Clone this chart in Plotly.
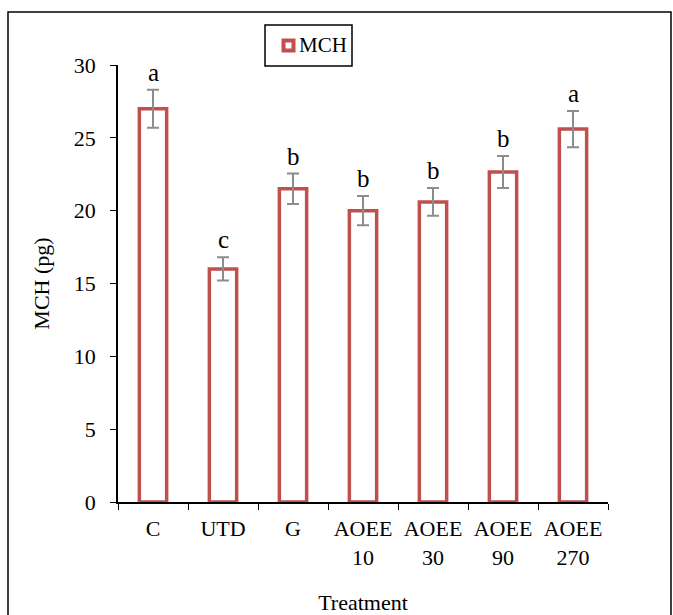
import plotly.graph_objects as go

categories = ["C", "UTD", "G", "AOEE<br>10", "AOEE<br>30", "AOEE<br>90", "AOEE<br>270"]
mch_values = [27.0, 16.0, 21.5, 20.0, 20.6, 22.65, 25.6]
mch_errors = [1.3, 0.8, 1.05, 1.0, 0.95, 1.1, 1.25]
sig_letters = ["a", "c", "b", "b", "b", "b", "a"]

FONT = "Liberation Serif"
RED = "#C0504D"

# pixel geometry helpers (plot area: x 118..608, y 10..502 paper)
L, R, T, B = 118, 65, 10, 113
W, H = 673, 615
PW, PH = W - L - R, H - T - B


def px(x):
    return (x - L) / PW


def py(y):
    return (H - B - y) / PH


fig = go.Figure()
fig.add_trace(go.Bar(
    x=categories, y=mch_values, name="MCH", width=0.39,
    marker=dict(color="white", line=dict(color=RED, width=3.5)),
    error_y=dict(type="data", array=mch_errors, visible=True,
                 color="#8C8C8C", thickness=2, width=6),
    showlegend=False,
))

for c, v, e, s in zip(categories, mch_values, mch_errors, sig_letters):
    fig.add_annotation(x=c, y=v + e, text=s, showarrow=False,
                       yanchor="bottom", yshift=2,
                       font=dict(family=FONT, size=25, color="black"))

# outer figure border
fig.add_shape(type="rect", xref="paper", yref="paper",
              x0=px(8), x1=px(671), y0=py(640), y1=py(12),
              line=dict(color="black", width=1.5), layer="below")

# legend box
fig.add_shape(type="rect", xref="paper", yref="paper",
              x0=px(265), x1=px(352), y0=py(66), y1=py(25),
              line=dict(color="black", width=1.5))
fig.add_shape(type="rect", xref="paper", yref="paper",
              x0=px(283.5), x1=px(293.5), y0=py(50.5), y1=py(40.5),
              line=dict(color=RED, width=4), fillcolor="white")
fig.add_annotation(xref="paper", yref="paper", x=px(297), y=py(45.5),
                   xanchor="left", yanchor="middle", text="MCH",
                   showarrow=False,
                   font=dict(family=FONT, size=21, color="black"))

fig.update_layout(
    width=W, height=H,
    margin=dict(l=L, r=R, t=T, b=B, autoexpand=False),
    plot_bgcolor="white", paper_bgcolor="white",
    font=dict(family=FONT, size=22, color="black"),
    xaxis=dict(showline=True, linecolor="black", linewidth=1.5,
               ticks="outside", ticklen=6, tickcolor="black",
               tickson="boundaries", ticklabelstandoff=6, automargin=False,
               title=dict(text="Treatment", standoff=26,
                          font=dict(family=FONT, size=22))),
    yaxis=dict(range=[0, 30], dtick=5, showline=True, linecolor="black",
               linewidth=1.5, ticks="outside", ticklen=6, tickcolor="black",
               showgrid=False, zeroline=False, ticklabelstandoff=10,
               automargin=False, domain=[0, py(65)],
               title=dict(text="MCH (pg)", standoff=18,
                          font=dict(family=FONT, size=22))),
)

fig.write_html("out.html")
